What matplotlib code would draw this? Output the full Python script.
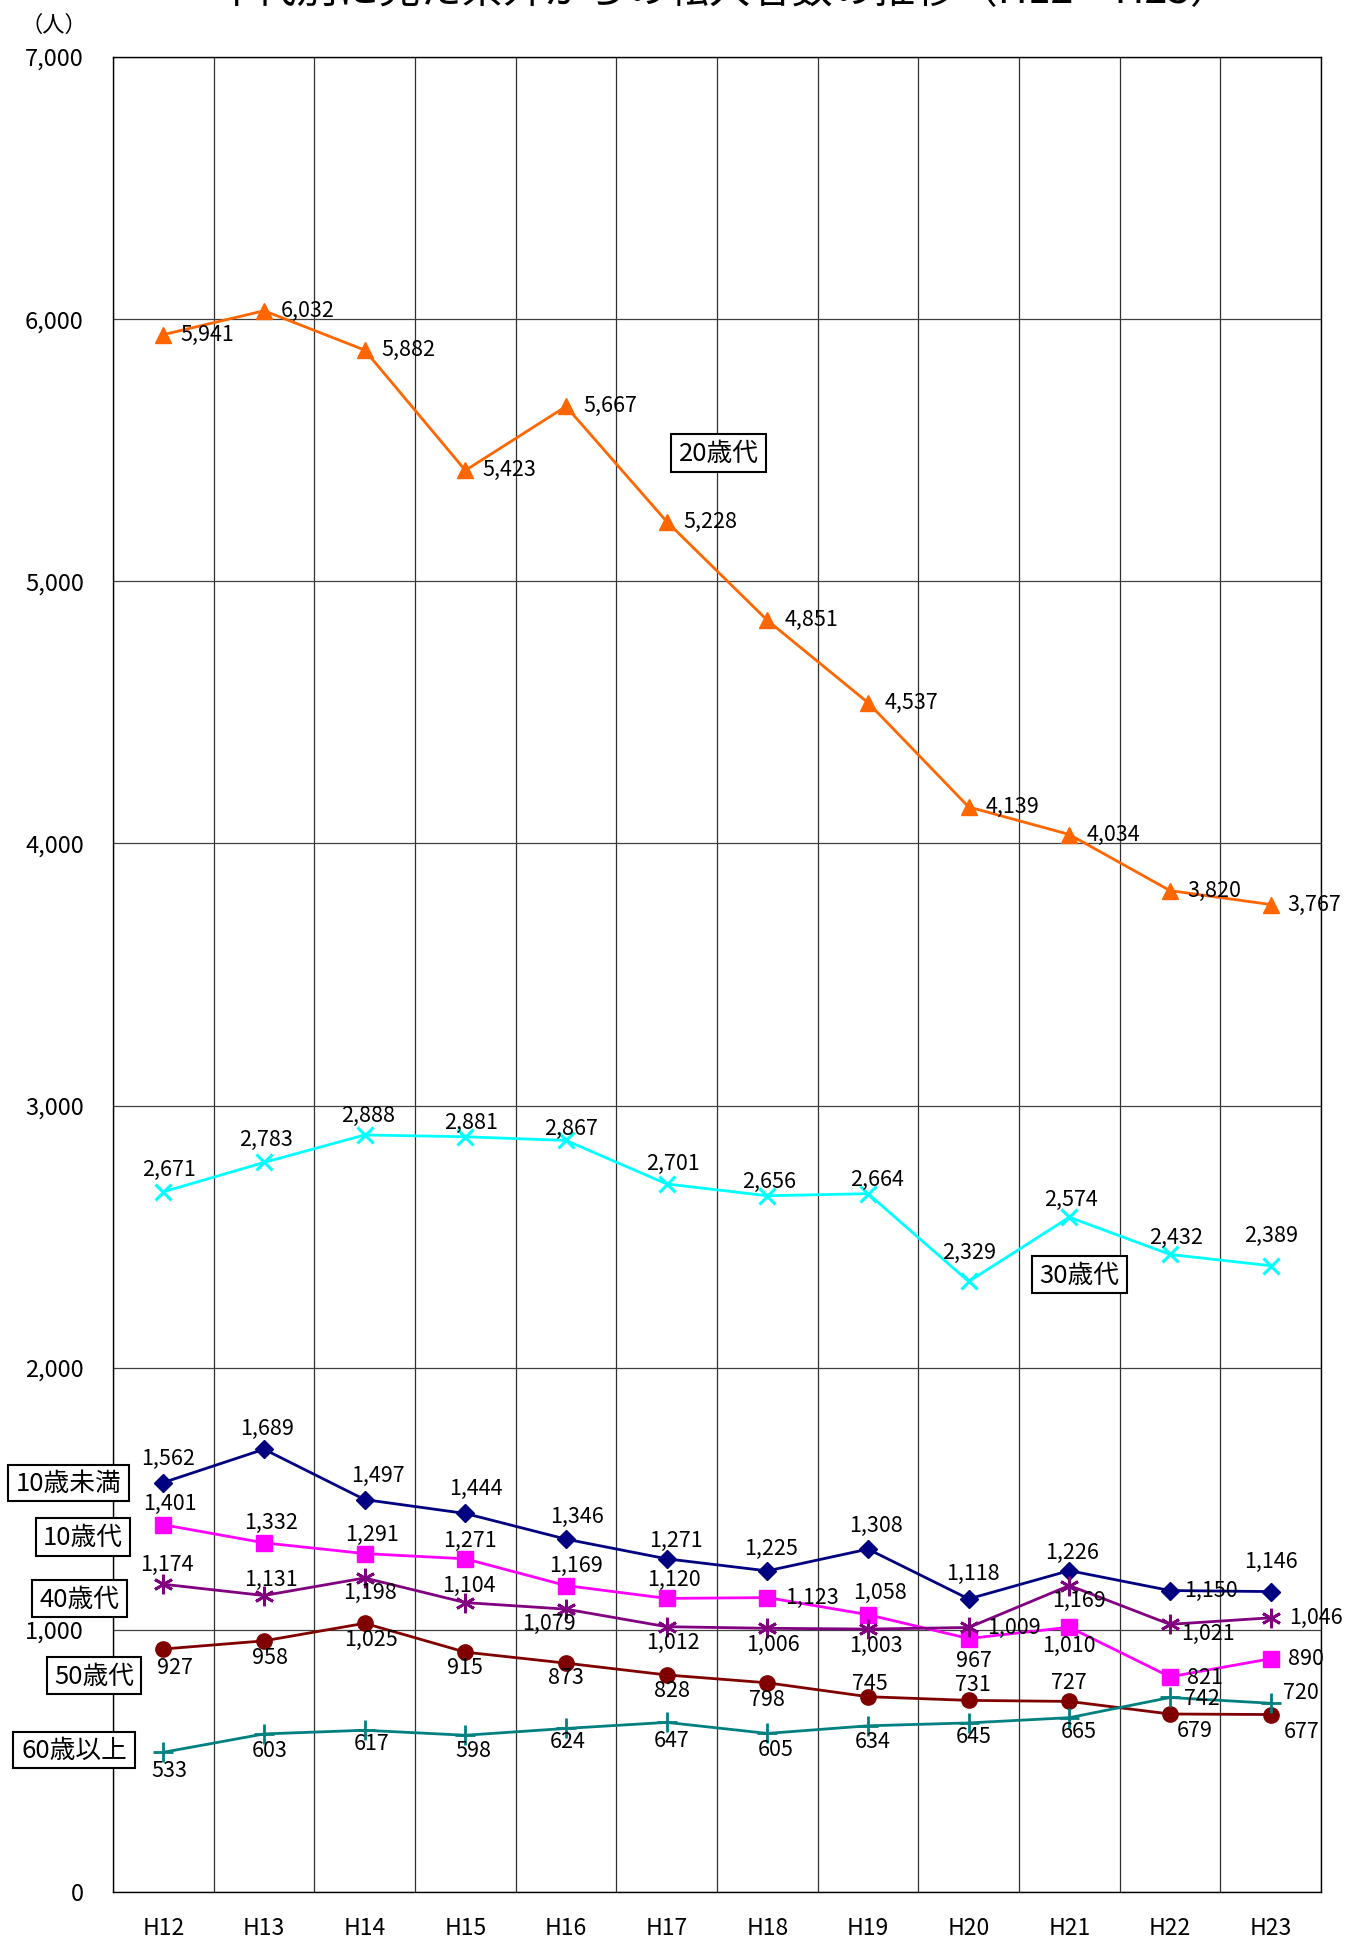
import matplotlib
matplotlib.use("Agg")
import matplotlib.pyplot as plt
from matplotlib.patches import Rectangle
import numpy as np

plt.rcParams['font.family'] = ['Noto Sans CJK JP', 'DejaVu Sans']

# ---------------- data ----------------
years = ["H12", "H13", "H14", "H15", "H16", "H17", "H18", "H19", "H20", "H21", "H22", "H23"]
under10 = [1562, 1689, 1497, 1444, 1346, 1271, 1225, 1308, 1118, 1226, 1150, 1146]
teens = [1401, 1332, 1291, 1271, 1169, 1120, 1123, 1058, 967, 1010, 821, 890]
twenties = [5941, 6032, 5882, 5423, 5667, 5228, 4851, 4537, 4139, 4034, 3820, 3767]
thirties = [2671, 2783, 2888, 2881, 2867, 2701, 2656, 2664, 2329, 2574, 2432, 2389]
forties = [1174, 1131, 1198, 1104, 1079, 1012, 1006, 1003, 1009, 1169, 1021, 1046]
fifties = [927, 958, 1025, 915, 873, 828, 798, 745, 731, 727, 679, 677]
over60 = [533, 603, 617, 598, 624, 647, 605, 634, 645, 665, 742, 720]
yticks = [0, 1000, 2000, 3000, 4000, 5000, 6000, 7000]
title = "年代別に見た県外からの転入者数の推移（H12～H23）"
unit = "（人）"

# ---------------- layout ----------------
W, H = 1357, 1942
fig = plt.figure(figsize=(W / 100, H / 100), dpi=100)
L, R, T, B = 113, 1321, 57, 1892
ax = fig.add_axes([L / W, 1 - B / H, (R - L) / W, (B - T) / H])

x = np.arange(len(years))
ax.set_xlim(-0.5, len(years) - 0.5)
ax.set_ylim(0, 7000)
ax.set_xticks(x)
ax.set_xticklabels(years, fontsize=16.5)
ax.set_xticks(np.arange(-0.5, len(years), 1), minor=True)
ax.set_yticks(yticks)
ax.set_yticklabels([f"{v:,}" for v in yticks], fontsize=17)
ax.tick_params(axis='both', which='both', length=0)
ax.tick_params(axis='y', pad=21)
ax.tick_params(axis='x', pad=18)
ax.grid(which='minor', axis='x', color='#303030', lw=0.9)
ax.grid(which='major', axis='y', color='#404040', lw=0.9)
ax.grid(which='major', axis='x', visible=False)
ax.set_axisbelow(True)
for s in ax.spines.values():
    s.set_color('black')
    s.set_linewidth(1.0)

# offsets (dx, dy in px, down positive) and alignment for data labels
C, Lf = 'center', 'left'
off_twenties = [(17, 0, Lf)] * 12
off_thirties = [(6, -22, C), (2, -23, C), (3, -19, C), (6, -14, C), (5, -11, C), (6, -20, C),
                (2, -14, C), (9, -14, C), (0, -29, C), (2, -17, C), (6, -17, C), (0, -30, C)]
off_under10 = [(5, -24, C), (3, -20, C), (13, -24, C), (11, -25, C), (11, -22, C), (9, -18, C),
               (4, -22, C), (8, -23, C), (4, -25, C), (3, -18, C), (14, 0, Lf), (0, -30, C)]
off_teens = [(7, -21, C), (7, -20, C), (7, -19, C), (5, -18, C), (10, -20, C), (7, -18, C),
             (18, 0, Lf), (12, -22, C), (5, 22, C), (0, 19, C), (17, 1, Lf), (17, 0, Lf)]
off_forties = [(4, -19, C), (7, -16, C), (5, 15, C), (4, -17, C), (-17, 15, C), (6, 16, C),
               (6, 17, C), (8, 17, C), (18, 0, Lf), (10, 15, C), (11, 10, Lf), (18, 0, Lf)]
off_fifties = [(12, 19, C), (6, 17, C), (6, 17, C), (0, 16, C), (0, 15, C), (5, 16, C),
               (0, 17, C), (2, -13, C), (4, -15, C), (0, -18, C), (25, 17, C), (31, 17, C)]
off_over60 = [(6, 19, C), (6, 17, C), (7, 14, C), (8, 16, C), (2, 14, C), (5, 19, C),
              (8, 17, C), (5, 16, C), (5, 14, C), (9, 14, C), (14, 2, Lf), (12, -10, Lf)]

series = [
    (twenties, '#FF6600', dict(marker='^', ms=11), off_twenties),
    (thirties, '#00FFFF', dict(marker='x', ms=12, mew=2.2), off_thirties),
    (under10, '#000080', dict(marker='D', ms=9), off_under10),
    (teens, '#FF00FF', dict(marker='s', ms=11), off_teens),
    (forties, '#800080', dict(marker=(6, 2, 0), ms=14, mew=2.0), off_forties),
    (fifties, '#800000', dict(marker='o', ms=11), off_fifties),
    (over60, '#008080', dict(marker='+', ms=14, mew=2.0), off_over60),
]

for vals, col, mk, offs in series:
    ax.plot(x, vals, color=col, lw=2.0, mfc=col, mec=col, zorder=3, clip_on=False, **mk)
    for i, v in enumerate(vals):
        dx, dy, ha = offs[i]
        ax.annotate(f"{v:,}", (x[i], v), xytext=(dx * 0.72, -dy * 0.72),
                    textcoords='offset points', ha=ha, va='center',
                    fontsize=15.5, color='black', zorder=5)

# series name boxes (pixel boxes: x0, x1, y0, y1)
boxes = [
    ("10歳未満", 8, 129, 1465, 1501),
    ("10歳代", 36, 130, 1518, 1556),
    ("40歳代", 32, 127, 1580, 1617),
    ("50歳代", 47, 141, 1657, 1694),
    ("60歳以上", 13, 135, 1732, 1768),
    ("20歳代", 671, 766, 434, 472),
    ("30歳代", 1032, 1127, 1256, 1293),
]
for txt, x0, x1, y0, y1 in boxes:
    fig.patches.append(Rectangle((x0 / W, 1 - y1 / H), (x1 - x0) / W, (y1 - y0) / H,
                                 transform=fig.transFigure, fc='white', ec='black',
                                 lw=1.5, zorder=6))
    fig.text((x0 + x1) / 2 / W, 1 - ((y0 + y1) / 2 + 1) / H, txt, ha='center', va='center',
             fontsize=18.5, zorder=7)

fig.text(54 / W, 1 - 25 / H, unit, ha='center', va='center', fontsize=16)

# title (clipped at the top like the reference)
t = fig.text(723 / W, 1 - 3 / H, title, ha='center', va='baseline', fontsize=30)
fig.canvas.draw()
bb = t.get_window_extent()
t.set_fontsize(30 * 1016 / bb.width)

fig.savefig("out.png", dpi=100)
